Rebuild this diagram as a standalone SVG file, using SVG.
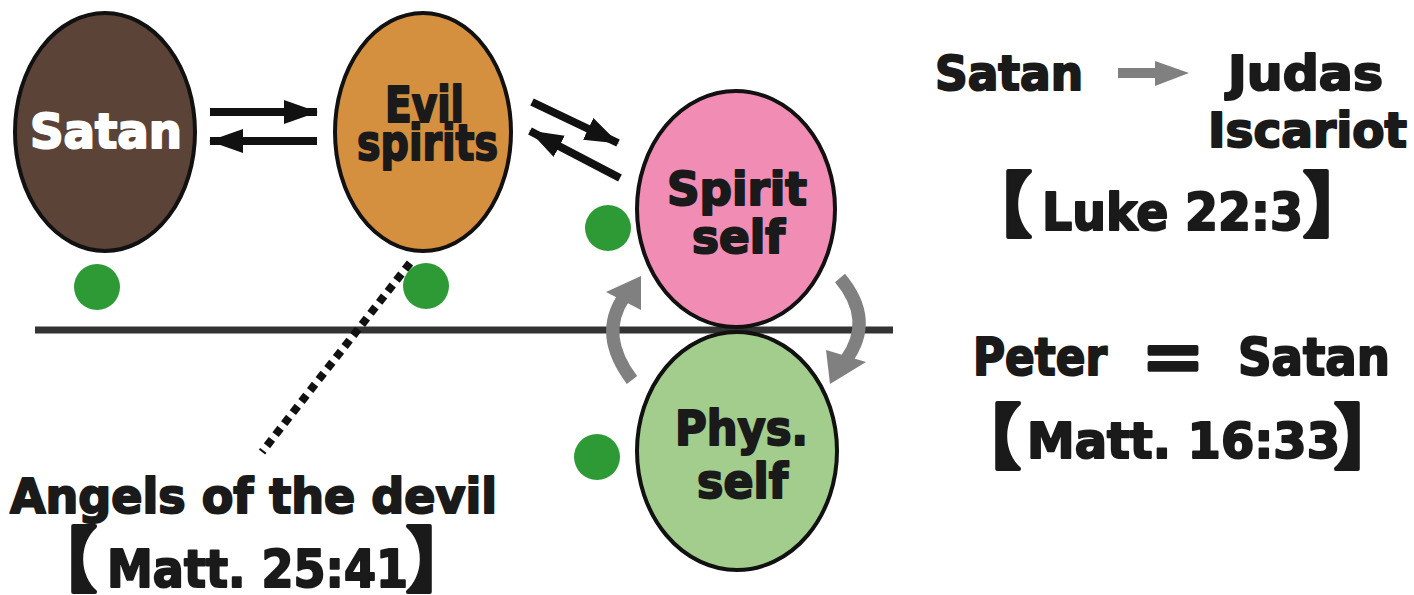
<svg xmlns="http://www.w3.org/2000/svg" width="1414" height="595" viewBox="0 0 1414 595">
<style>
.node{stroke:#111;stroke-width:4}
.t{font-family:"DejaVu Sans","Liberation Sans",sans-serif;font-weight:bold;fill:#1a1a1a;stroke:#1a1a1a;stroke-width:2.1;stroke-linejoin:round}
.br{font-family:"Noto Sans CJK JP","Noto Sans CJK SC",sans-serif;font-weight:bold;fill:#1a1a1a;stroke:#1a1a1a;stroke-width:4;stroke-linejoin:round}
.w{fill:#fff;stroke:#fff}
.dot{fill:#2e9a36}
.arr{stroke:#111;stroke-width:8;fill:none}
.gray{stroke:#808080;stroke-width:13;fill:none}
.gh{fill:#808080}
</style>
<defs>
<marker id="ah" markerUnits="userSpaceOnUse" markerWidth="36" markerHeight="26" refX="33" refY="12" orient="auto">
<path d="M0,0 L34,12 L0,24 z" fill="#111"/>
</marker>
</defs>
<rect width="1414" height="595" fill="#fff"/>
<line x1="35" y1="330" x2="893" y2="330" stroke="#333" stroke-width="7"/>
<g id="satan">
<ellipse class="node" cx="105" cy="132" rx="90" ry="119" fill="#5b4338"/>
<text class="t w" x="30" y="148" font-size="48" textLength="152" lengthAdjust="spacingAndGlyphs">Satan</text>
</g>
<g id="evil-spirits">
<ellipse class="node" cx="423" cy="132" rx="88" ry="119" fill="#d48f3f"/>
<text class="t" x="385" y="122" font-size="50" textLength="79" lengthAdjust="spacingAndGlyphs">Evil</text>
<text class="t" x="357" y="160" font-size="50" textLength="141" lengthAdjust="spacingAndGlyphs">spirits</text>
</g>
<g id="spirit-self">
<ellipse class="node" cx="736" cy="209" rx="99" ry="118" fill="#f18cb5"/>
<text class="t" x="667" y="205" font-size="46" textLength="140" lengthAdjust="spacingAndGlyphs">Spirit</text>
<text class="t" x="692" y="253" font-size="46" textLength="93" lengthAdjust="spacingAndGlyphs">self</text>
</g>
<g id="phys-self">
<ellipse class="node" cx="737" cy="451" rx="100" ry="119" fill="#a2cd8c"/>
<text class="t" x="675" y="445" font-size="48" textLength="133" lengthAdjust="spacingAndGlyphs">Phys.</text>
<text class="t" x="697" y="498" font-size="48" textLength="91" lengthAdjust="spacingAndGlyphs">self</text>
</g>
<g id="connectors">
<line class="arr" x1="210" y1="112" x2="317" y2="112" marker-end="url(#ah)"/>
<line class="arr" x1="317" y1="141" x2="210" y2="141" marker-end="url(#ah)"/>
<line class="arr" x1="532" y1="102" x2="618" y2="143" marker-end="url(#ah)"/>
<line class="arr" x1="620" y1="178" x2="530" y2="131" marker-end="url(#ah)"/>
<path class="gray" d="M632 380 Q598 335 624 297"/>
<path class="gh" d="M641 276 L606 292 L641 310 z"/>
<path class="gray" d="M840 278 Q875 320 846 360"/>
<path class="gh" d="M830 384 L826 350 L866 362 z"/>
<line x1="410" y1="263" x2="262" y2="452" stroke="#111" stroke-width="8" stroke-dasharray="8 6"/>
<line x1="1118" y1="73" x2="1160" y2="73" stroke="#808080" stroke-width="10"/>
<path class="gh" d="M1155 61 L1189 73 L1155 86 z"/>
</g>
<g id="dots">
<circle class="dot" cx="97" cy="287" r="23"/>
<circle class="dot" cx="426" cy="286" r="23"/>
<circle class="dot" cx="608" cy="228" r="23"/>
<circle class="dot" cx="597" cy="457" r="23"/>
</g>
<g id="label-angels">
<text class="t" x="10" y="513" font-size="48" textLength="487" lengthAdjust="spacingAndGlyphs">Angels of the devil</text>
<text class="br" x="62" y="586" font-size="70" text-anchor="middle">【</text>
<text class="t" x="107" y="587" font-size="52" textLength="301" lengthAdjust="spacingAndGlyphs">Matt. 25:41</text>
<text class="br" x="441" y="586" font-size="70" text-anchor="middle">】</text>
</g>
<g id="label-judas">
<text class="t" x="935" y="90" font-size="48" textLength="148" lengthAdjust="spacingAndGlyphs">Satan</text>
<text class="t" x="1228" y="90" font-size="48" textLength="155" lengthAdjust="spacingAndGlyphs">Judas</text>
<text class="t" x="1208" y="147" font-size="48" textLength="199" lengthAdjust="spacingAndGlyphs">Iscariot</text>
<text class="br" x="997" y="231" font-size="70" text-anchor="middle">【</text>
<text class="t" x="1042" y="230" font-size="52" textLength="261" lengthAdjust="spacingAndGlyphs">Luke 22:3</text>
<text class="br" x="1338" y="231" font-size="70" text-anchor="middle">】</text>
</g>
<g id="label-peter">
<text class="t" x="973" y="375" font-size="51" textLength="134" lengthAdjust="spacingAndGlyphs">Peter</text>
<text class="br" x="1173" y="384" font-size="66" text-anchor="middle" stroke-width="1">＝</text>
<text class="t" x="1238" y="375" font-size="51" textLength="152" lengthAdjust="spacingAndGlyphs">Satan</text>
<text class="br" x="986" y="463" font-size="70" text-anchor="middle">【</text>
<text class="t" x="1027" y="458" font-size="50" textLength="313" lengthAdjust="spacingAndGlyphs">Matt. 16:33</text>
<text class="br" x="1369" y="463" font-size="70" text-anchor="middle">】</text>
</g>
</svg>
